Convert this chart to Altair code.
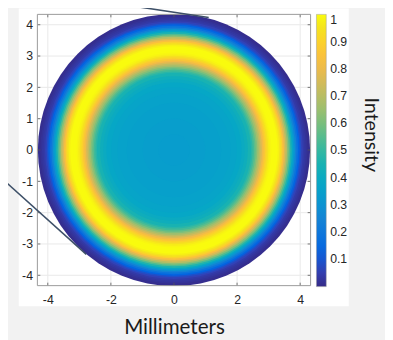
import altair as alt
import pandas as pd

# ---- data ----
# concentric rings: outer radius (mm) and intensity of each ring (centre -> edge)
ring_outer_mm = [0.50, 1.00, 1.50, 1.80, 2.00, 2.15, 2.25, 2.35, 2.45, 2.50,
                 2.55, 2.60, 2.65, 2.70, 2.75, 2.80, 2.85, 2.90, 2.95, 3.00,
                 3.05, 3.10, 3.15, 3.20, 3.25, 3.30, 3.35, 3.40, 3.45, 3.50,
                 3.55, 3.60, 3.65, 3.70, 3.75, 3.80, 3.85, 3.90, 3.95, 4.00,
                 4.05, 4.10, 4.15, 4.20, 4.25, 4.33]
ring_intensity = [0.34, 0.345, 0.35, 0.36, 0.37, 0.38, 0.40, 0.42, 0.45, 0.48,
                  0.52, 0.56, 0.61, 0.66, 0.71, 0.76, 0.81, 0.86, 0.90, 0.94,
                  0.97, 0.99, 1.00, 1.00, 1.00, 1.00, 0.98, 0.95, 0.90, 0.84,
                  0.77, 0.70, 0.62, 0.54, 0.46, 0.38, 0.31, 0.24, 0.18, 0.13,
                  0.09, 0.06, 0.04, 0.03, 0.02, 0.01]

x_tick_values = [-4, -2, 0, 2, 4]
y_tick_values = [-4, -3, -2, -1, 0, 1, 2, 3, 4]
colorbar_labels = [0.1, 0.2, 0.3, 0.4, 0.5, 0.6, 0.7, 0.8, 0.9, 1.0]

# parula colormap stops
parula_positions = [0.0, 0.0635, 0.127, 0.1905, 0.254, 0.3175, 0.381, 0.444,
                    0.508, 0.571, 0.635, 0.698, 0.762, 0.825, 0.889, 0.952, 1.0]
parula_colors = ["#352A87", "#3243BA", "#0363E1", "#0D75DC", "#1485D4",
                 "#0998D1", "#06A7C6", "#15B1B4", "#38B99E", "#65BE86",
                 "#92BF73", "#B7BD64", "#D9BA56", "#F8BB44", "#FCCE2E",
                 "#F5E41D", "#F9FB0E"]

# callout lines (mm coordinates)
callout_x0 = [-1.79, -5.51]
callout_y0 = [4.67, -0.86]
callout_x1 = [1.10, -2.78]
callout_y1 = [4.23, -3.33]

EXT = 4.33
W, H = 279, 277

rings = pd.DataFrame({"outer": ring_outer_mm, "intensity": ring_intensity})
rings = rings.iloc[::-1].reset_index(drop=True)  # draw largest disc first
xt = pd.DataFrame({"v": x_tick_values})
yt = pd.DataFrame({"v": y_tick_values})
segs = pd.DataFrame({"x0": callout_x0, "y0": callout_y0,
                     "x1": callout_x1, "y1": callout_y1})
one = pd.DataFrame({"a": [0]})

xs = alt.Scale(domain=[-EXT, EXT], nice=False, zero=False)
ys = alt.Scale(domain=[-EXT, EXT], nice=False, zero=False)

LABEL_FONT = "Liberation Sans"
TITLE_FONT = "Lato"
AX_COLOR = "#262626"
LFS = 12.5

x_axis = alt.Axis(values=x_tick_values, grid=False, ticks=False, domain=False,
                  labelPadding=8, labelFont=LABEL_FONT, labelFontSize=LFS,
                  labelColor=AX_COLOR, labelExpr="'' + datum.value",
                  title="Millimeters", titleFont=TITLE_FONT, titleFontSize=21,
                  titleFontWeight="normal", titleColor="#1a1a1a", titlePadding=11,
                  zindex=1)
y_axis = alt.Axis(values=y_tick_values, grid=False, ticks=False, domain=False,
                  labelPadding=5, labelFont=LABEL_FONT, labelFontSize=LFS,
                  labelColor=AX_COLOR, labelExpr="'' + datum.value", title=None,
                  zindex=1)

X = lambda f: alt.X(f, type="quantitative", scale=xs, axis=x_axis)
Y = lambda f: alt.Y(f, type="quantitative", scale=ys, axis=y_axis)

panel = alt.Chart(one).mark_rect(fill="white", strokeWidth=0).encode(
    x=alt.value(-19), x2=alt.value(318), y=alt.value(-6), y2=alt.value(298))

grid_x = alt.Chart(xt).mark_rule(color="#e8e8e8", strokeWidth=1).encode(x=X("v"))
grid_y = alt.Chart(yt).mark_rule(color="#e8e8e8", strokeWidth=1).encode(y=Y("v"))

# stacked filled discs, largest first; diameter = sqrt(size)
discs = alt.Chart(rings).mark_point(shape="circle", filled=True, opacity=1,
                                    strokeWidth=0).encode(
    x=alt.XDatum(0, type="quantitative", scale=xs, axis=x_axis),
    y=alt.YDatum(0, type="quantitative", scale=ys, axis=y_axis),
    size=alt.Size("outer:Q",
                  scale=alt.Scale(type="pow", exponent=2, domain=[0, EXT],
                                  range=[0, 278 * 278]),
                  legend=None),
    color=alt.Color("intensity:Q",
                    scale=alt.Scale(domain=parula_positions, range=parula_colors,
                                    interpolate="rgb"),
                    legend=alt.Legend(
                        title=None, orient="right", offset=6, padding=0,
                        direction="vertical", gradientLength=278,
                        gradientThickness=10, gradientStrokeColor="#9a9a9a",
                        gradientStrokeWidth=0.5, values=colorbar_labels,
                        labelExpr="'' + datum.value", labelFont=LABEL_FONT,
                        labelFontSize=LFS, labelColor=AX_COLOR, labelOffset=4,
                        labelOverlap=False)),
)

colorbar_title = alt.Chart(one).mark_text(
    text="Intensity", angle=90, align="center", baseline="middle",
    font=TITLE_FONT, fontSize=20, color="#1a1a1a").encode(
    x=alt.value(W + 62), y=alt.value(123))

TICK = "#555555"
bt = alt.Chart(xt).mark_rule(color=TICK, strokeWidth=0.8).encode(
    x=X("v"), y=alt.value(H - 3), y2=alt.value(H))
tt = alt.Chart(xt).mark_rule(color=TICK, strokeWidth=0.8).encode(
    x=X("v"), y=alt.value(0), y2=alt.value(3))
lt = alt.Chart(yt).mark_rule(color=TICK, strokeWidth=0.8).encode(
    y=Y("v"), x=alt.value(0), x2=alt.value(3))
rt = alt.Chart(yt).mark_rule(color=TICK, strokeWidth=0.8).encode(
    y=Y("v"), x=alt.value(W - 3), x2=alt.value(W))

box = alt.Chart(one).mark_rect(fillOpacity=0, stroke="#9a9a9a", strokeWidth=1).encode(
    x=alt.value(0), x2=alt.value(W), y=alt.value(0), y2=alt.value(H))

callouts = alt.Chart(segs).mark_rule(color="#3e5068", strokeWidth=1.6).encode(
    x=X("x0"), y=Y("y0"), x2="x1", y2="y1")

chart = alt.layer(panel, grid_x, grid_y, discs, bt, tt, lt, rt, box, callouts,
                  colorbar_title).properties(
    width=W, height=H,
    autosize=alt.AutoSizeParams(type="none"),
    padding={"left": 30, "top": 3, "right": 76, "bottom": 52},
    background="#f2f2f2",
).configure_view(stroke=None)

chart.save("out.html", embed_options={"renderer": "svg", "actions": False})
